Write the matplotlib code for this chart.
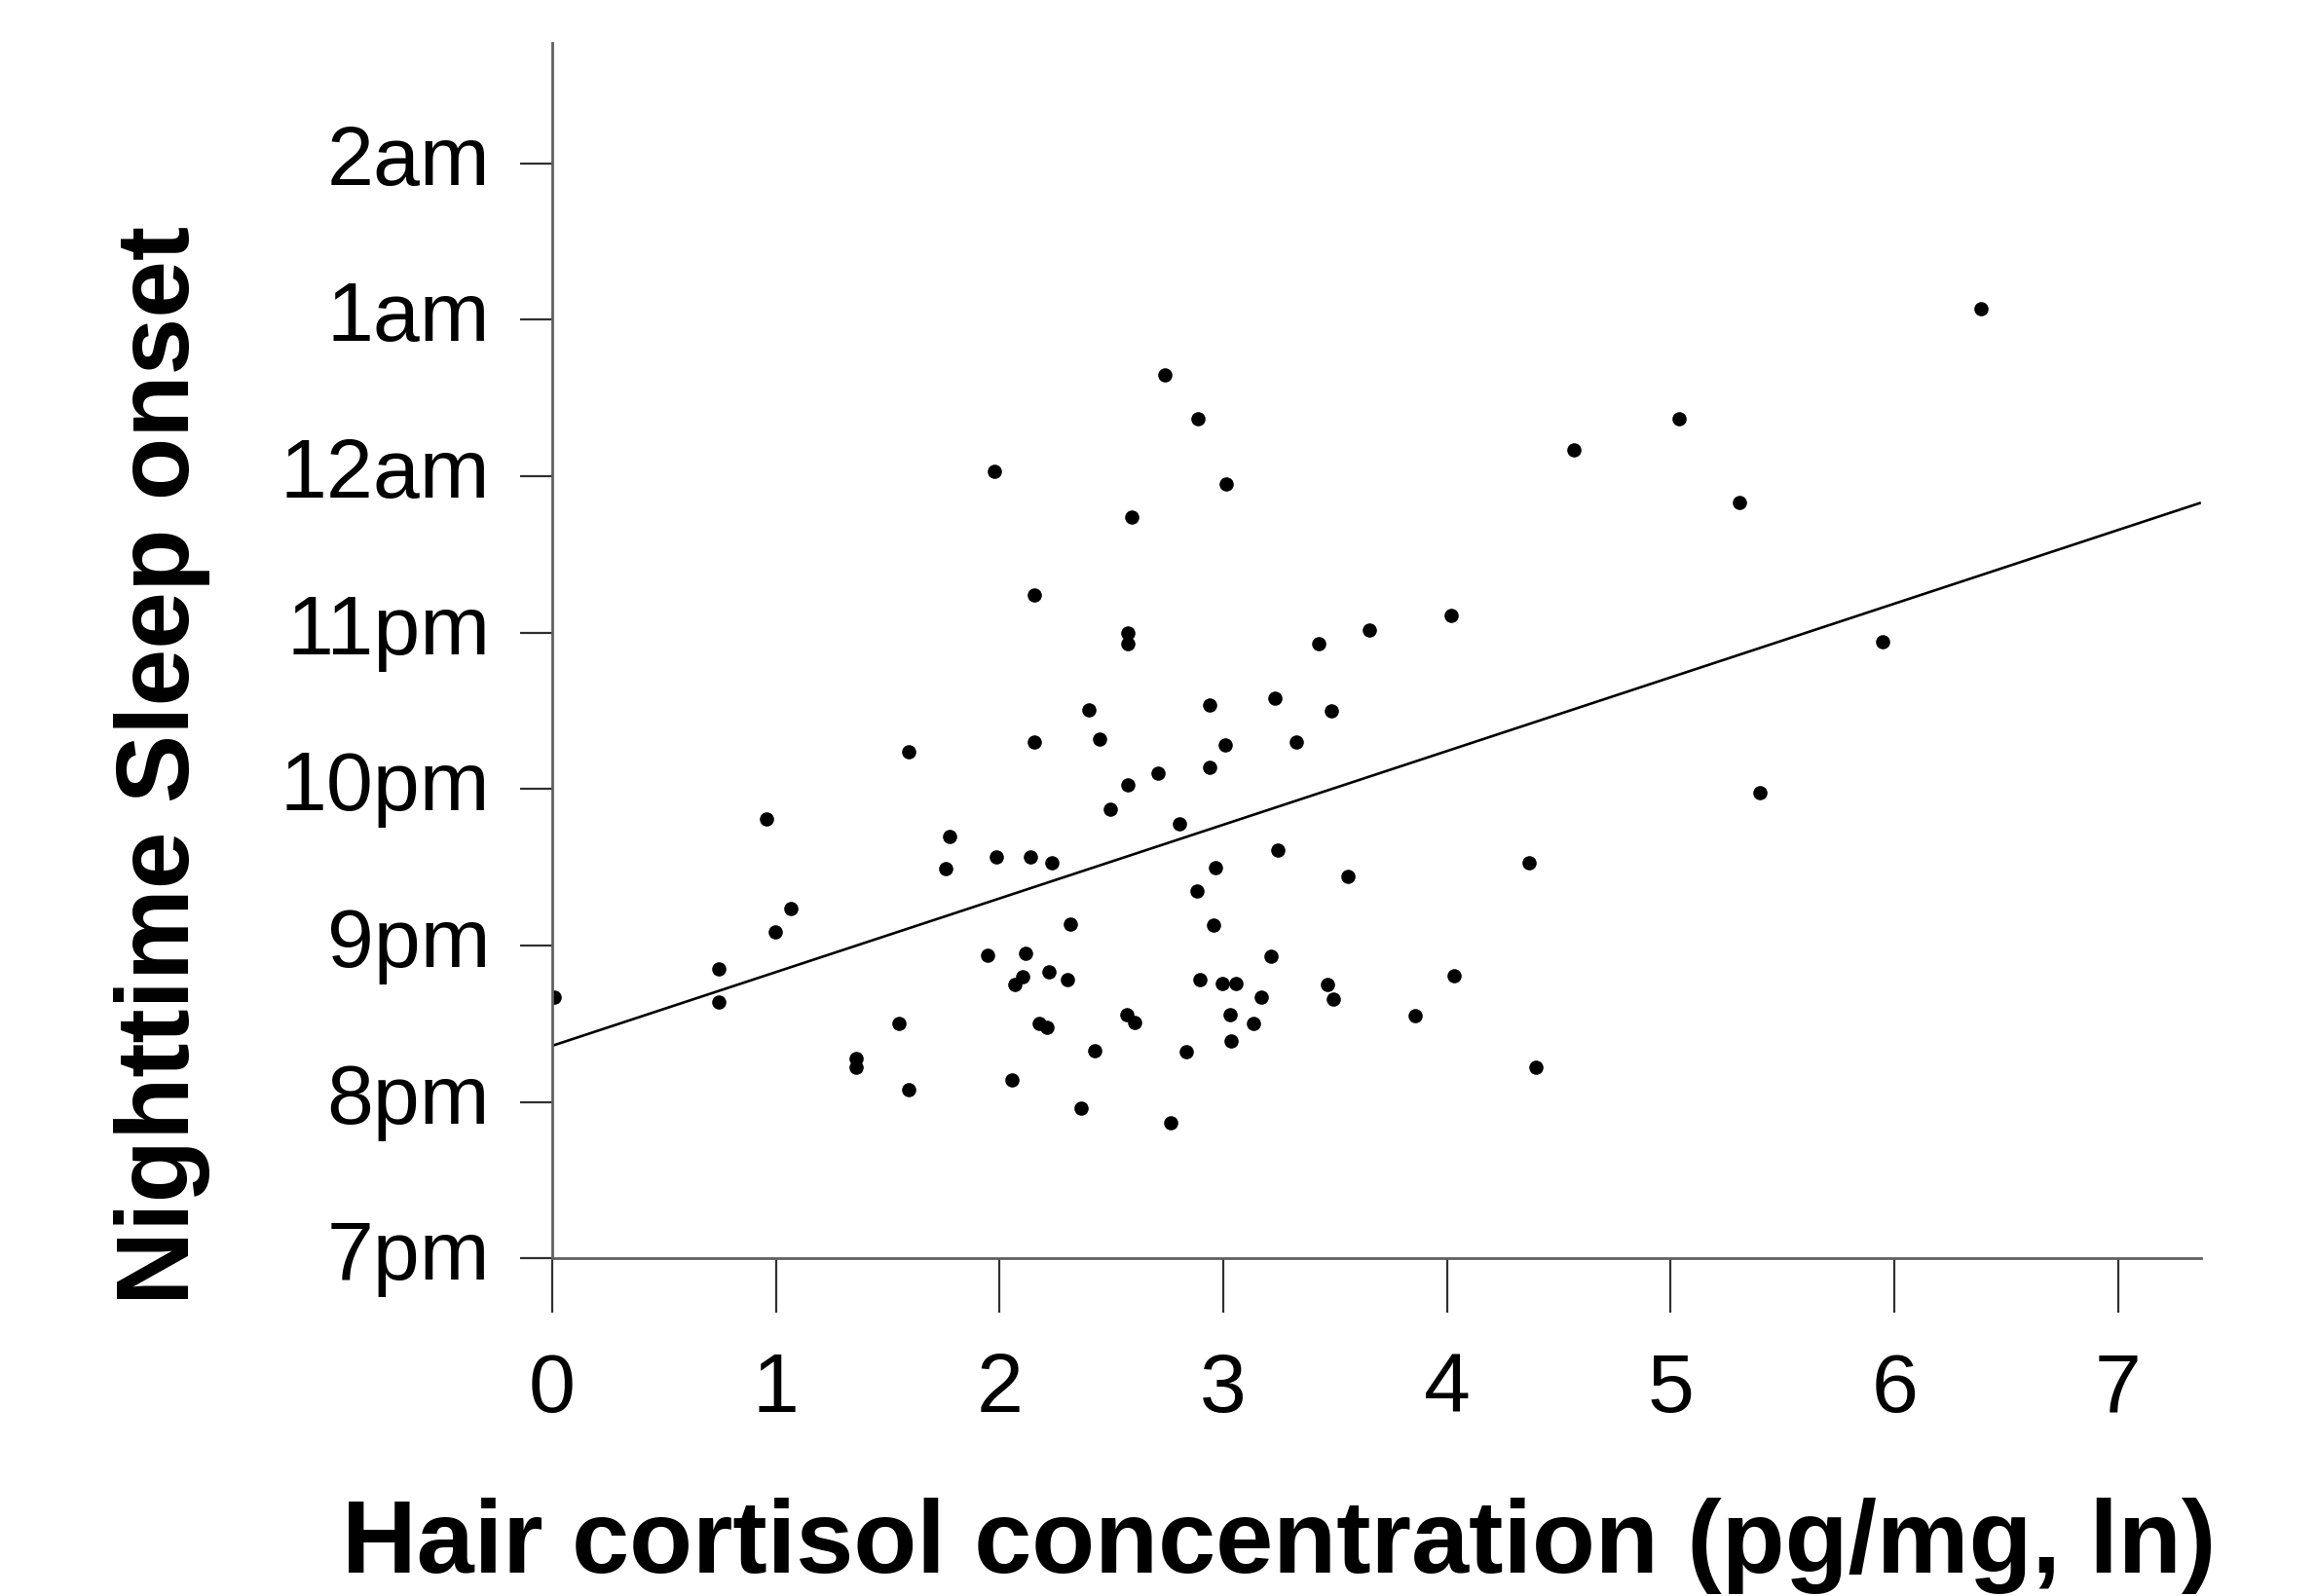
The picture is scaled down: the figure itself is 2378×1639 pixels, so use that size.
import matplotlib
matplotlib.use("Agg")
import matplotlib.pyplot as plt
import matplotlib.transforms as mtransforms
import numpy as np

# Hair cortisol (ln pg/mg)
cortisol = [0.01, 0.745, 0.745, 0.957, 0.996, 1.068, 1.36, 1.36, 1.552, 1.593,
            1.593, 1.777, 1.76, 1.947, 1.976, 1.986, 2.054, 2.069, 2.104, 2.117,
            2.155, 2.155, 2.138, 2.178, 2.213, 2.221, 2.234, 2.317, 2.304, 2.365,
            2.401, 2.426, 2.445, 2.496, 2.57, 2.575, 2.575, 2.59, 2.574, 2.605,
            2.709, 2.738, 2.766, 2.805, 2.835, 2.883, 2.888, 2.896, 2.939, 2.94,
            2.957, 2.966, 2.997, 3.008, 3.013, 3.031, 3.057, 3.036, 3.136, 3.171,
            3.214, 3.23, 3.245, 3.328, 3.428, 3.483, 3.467, 3.493, 3.555, 3.654,
            3.858, 4.02, 4.03, 4.368, 4.398, 4.567, 5.038, 5.307, 5.398, 5.946,
            6.385]
# Sleep onset, hours after midnight of the previous day (19 = 7pm, 24 = 12am)
onset = [20.67, 20.85, 20.64, 21.81, 21.09, 21.24, 20.28, 20.22, 20.50, 22.24,
         20.08, 21.70, 21.49, 20.94, 24.03, 21.57, 20.14, 20.75, 20.80, 20.95,
         23.24, 22.30, 21.57, 20.50, 20.48, 20.83, 21.53, 21.14, 20.78, 19.96,
         22.51, 20.33, 22.32, 21.87, 20.56, 23.00, 22.93, 23.74, 22.03, 20.51,
         22.10, 24.65, 19.87, 21.78, 20.32, 21.35, 24.37, 20.78, 22.54, 22.14,
         21.13, 21.50, 20.76, 22.28, 23.95, 20.56, 20.76, 20.39, 20.50, 20.67,
         20.93, 22.58, 21.61, 22.30, 22.93, 22.50, 20.75, 20.66, 21.44, 23.02,
         20.55, 23.11, 20.81, 21.53, 20.22, 24.17, 24.37, 23.83, 21.98, 22.94,
         25.07]

# Fitted regression line
fit_intercept = 20.36
fit_slope = 0.471

ytick_vals = [19, 20, 21, 22, 23, 24, 25, 26]
ytick_labels = ["7pm", "8pm", "9pm", "10pm", "11pm", "12am", "1am", "2am"]
xtick_vals = [0, 1, 2, 3, 4, 5, 6, 7]
xtick_labels = ["0", "1", "2", "3", "4", "5", "6", "7"]

XMAX = 7.37
YMIN, YMAX = 19, 26.77

plt.rcParams['font.family'] = ['Liberation Sans', 'DejaVu Sans']

fig = plt.figure(figsize=(23.78, 16.4), dpi=100)
ax = fig.add_axes([0.2384, 0.2113, 0.7119, 0.7612])

ax.plot(cortisol, onset, 'o', color='black', markersize=10.5, markeredgewidth=0)
xl = np.array([0, XMAX])
ax.plot(xl, fit_intercept + fit_slope * xl, color='black', lw=1.9,
        solid_capstyle='butt')

ax.set_xlim(0, XMAX)
ax.set_ylim(YMIN, YMAX)

for s in ['top', 'right']:
    ax.spines[s].set_visible(False)
for s in ['left', 'bottom']:
    ax.spines[s].set_color('#606060')
    ax.spines[s].set_linewidth(2.0)

ax.set_yticks(ytick_vals)
ax.set_yticklabels(ytick_labels)
ax.set_xticks(xtick_vals)
ax.set_xticklabels(xtick_labels)
ax.tick_params(axis='y', direction='out', length=24, width=1.6, color='#303030',
               labelsize=62, pad=22)
ax.tick_params(axis='x', direction='out', length=40, width=1.6, color='#303030',
               labelsize=62, pad=28)

shift = mtransforms.ScaledTranslation(0, 10 / 100, fig.dpi_scale_trans)
for lab in ax.get_yticklabels():
    lab.set_transform(lab.get_transform() + shift)

fig.text(0.552, 0.0152, "Hair cortisol concentration (pg/mg, ln)",
         fontsize=76.5, fontweight='bold', ha='center', va='baseline')
fig.text(0.0816, 0.521, "Nighttime Sleep onset", fontsize=76, fontweight='bold',
         rotation=90, rotation_mode='anchor', ha='center', va='baseline')

fig.savefig("out.png", dpi=100, facecolor='white')
